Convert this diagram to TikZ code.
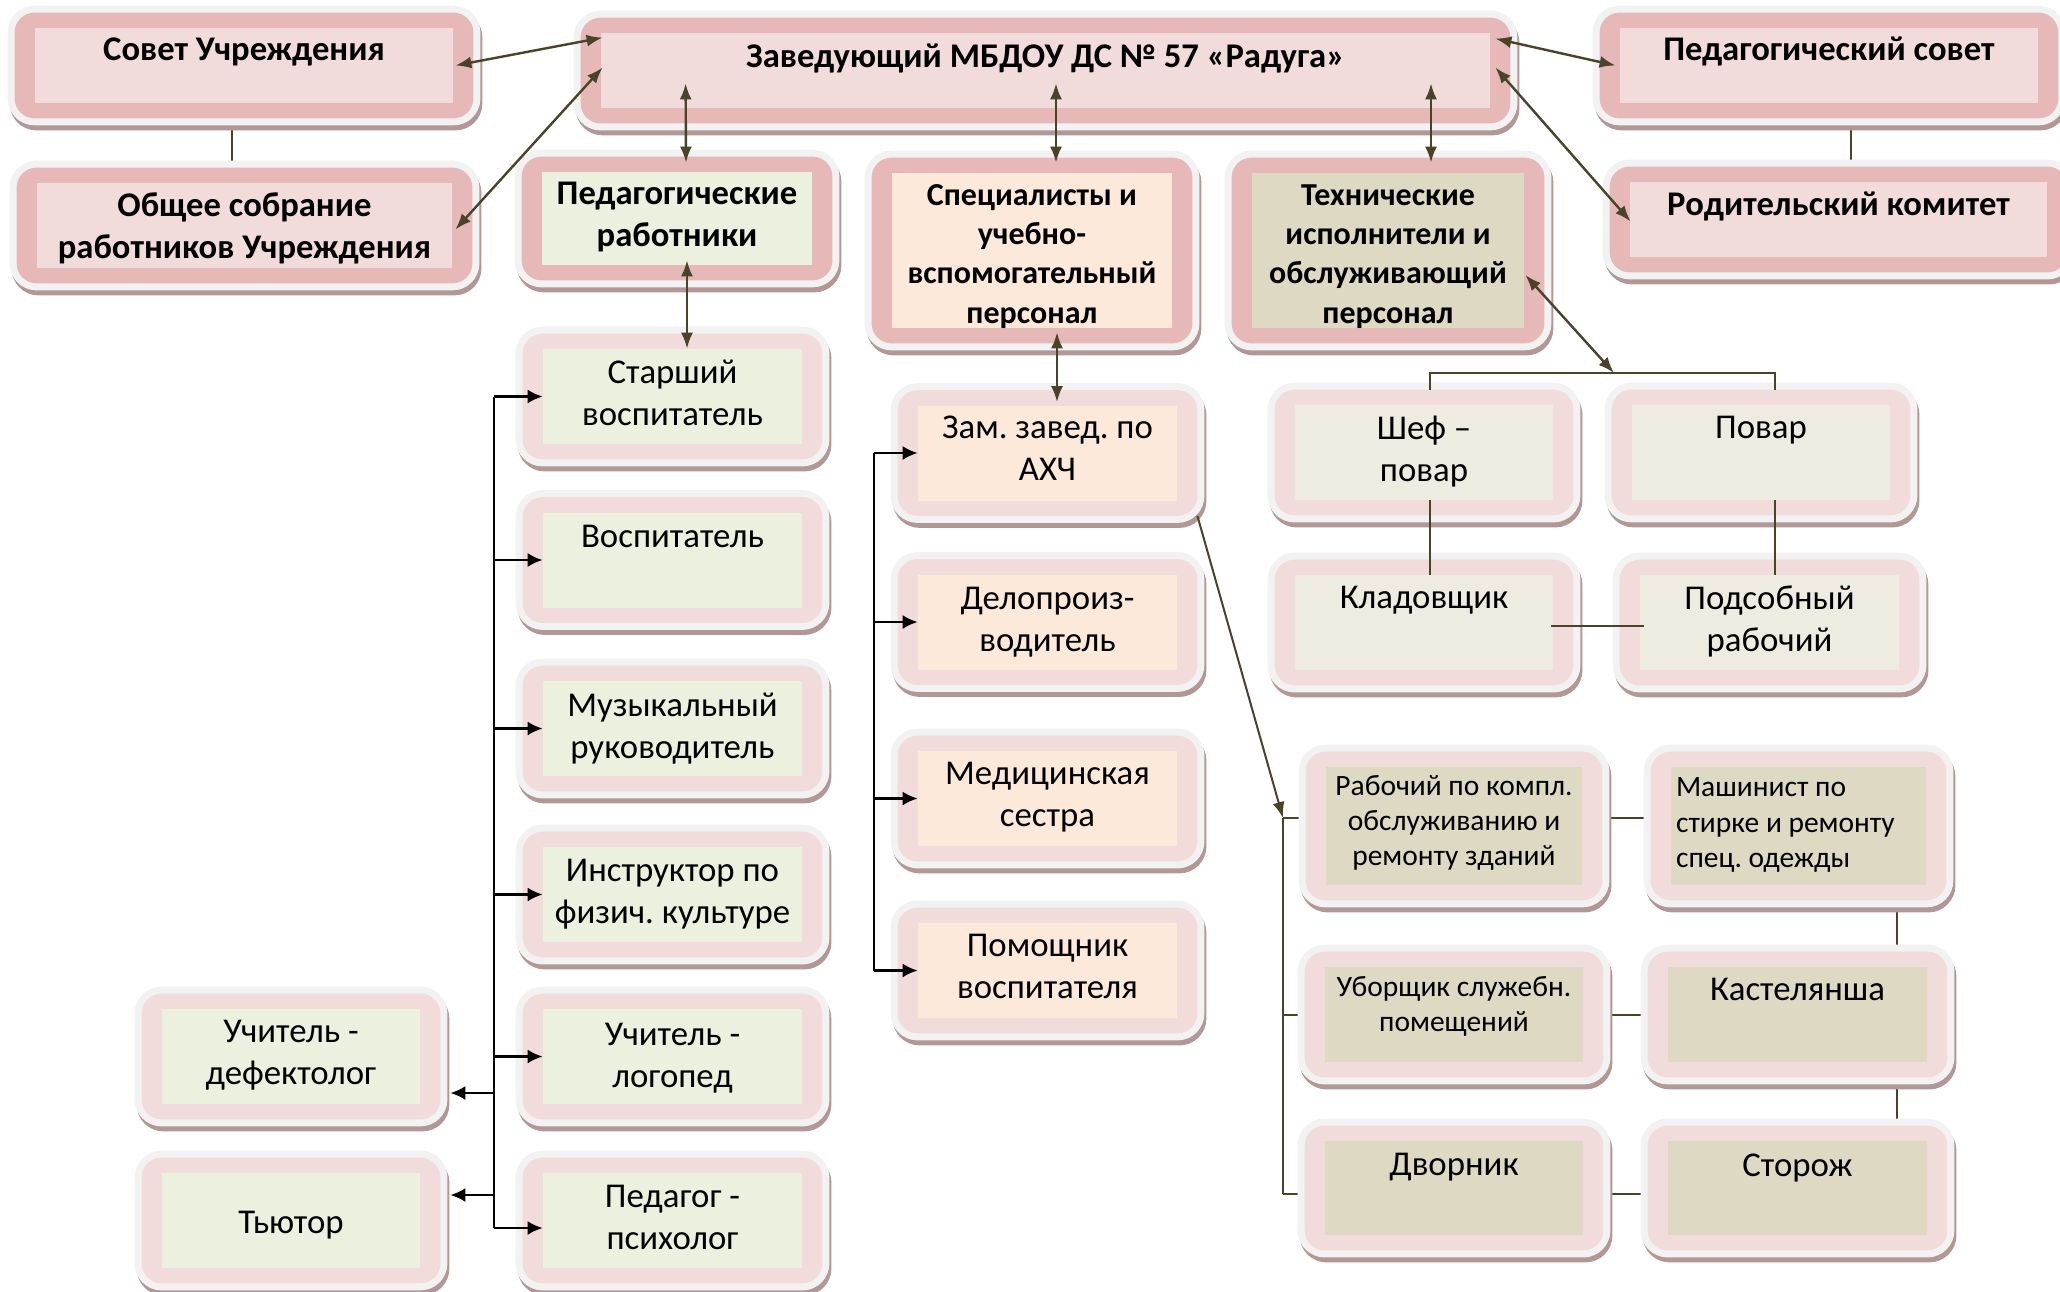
\documentclass[tikz,border=0pt]{standalone}
\usepackage{fontspec}
\setmainfont{Carlito}
\frenchspacing
\usetikzlibrary{calc,arrows.meta}
\pgfdeclarelayer{back}
\pgfdeclarelayer{deco}
\pgfsetlayers{back,deco,main}
\definecolor{pinkD}{HTML}{E6B9B8}
\definecolor{pinkL}{HTML}{F2DCDB}
\definecolor{haloC}{HTML}{F2F2F2}
\definecolor{shadC}{HTML}{B39797}
\definecolor{grnC}{HTML}{EBF1DE}
\definecolor{peachC}{HTML}{FDE9D9}
\definecolor{tanC}{HTML}{DDD9C3}
\definecolor{ltanC}{HTML}{EEECE1}
\definecolor{oliveC}{HTML}{494429}
\tikzset{
  bx/.style n args={3}{rectangle, inner sep=0pt, fill=#1, minimum width=#2*0.5pt, minimum height=#3*0.5pt, align=center, font=\fontsize{17.4}{21}\selectfont},
  hd/.style={font=\fontsize{17.3}{21}\selectfont\bfseries},
  hdc/.style={font=\fontsize{16}{19.7}\selectfont\bfseries},
  sm/.style={font=\fontsize{14.75}{17.6}\selectfont},
  oarr/.style={draw=oliveC, line width=1.2pt, {Latex[length=8pt,width=6pt]}-{Latex[length=8pt,width=6pt]}},
  oone/.style={draw=oliveC, line width=1pt, -{Latex[length=8pt,width=6pt]}},
  oline/.style={draw=oliveC, line width=1pt},
  bline/.style={draw=black, line width=1.1pt},
  barr/.style={draw=black, line width=1.1pt, -{Latex[length=7.5pt,width=7pt]}},
}
% trailing empty line used to place the text block vertically
\newcommand\trail[1]{\\[#1]\mbox{}}
\begin{document}
\begin{tikzpicture}[x=0.5pt,y=-0.5pt]
\useasboundingbox (0,0) rectangle (2060,1291);
\begin{pgfonlayer}{back}
\fill[white] (0,0) rectangle (2060,1291);
\end{pgfonlayer}

% top level
\node[bx={pinkL}{418}{75}, hd] (sovet) at (244,65.5) {Совет Учреждения\trail{-4.3pt}};
\node[bx={pinkL}{415}{85}, hd] (obshee) at (244.5,225.5) {Общее собрание\\работников Учреждения\trail{-21.3pt}};
\node[bx={pinkL}{889}{75}, hd] (zav) at (1045.5,70.5) {Заведующий МБДОУ ДС №~57 «Радуга»\trail{-6.6pt}};
\node[bx={pinkL}{418}{75}, hd] (pedsovet) at (1829,65.5) {Педагогический совет\trail{-4.3pt}};
\node[bx={pinkL}{417}{75}, hd] (rodkom) at (1838.5,219.5) {Родительский комитет\trail{-5.3pt}};
\node[bx={grnC}{270}{93}, hd] (pedrab) at (677,218.5) {Педагогические\\работники\trail{-17pt}};
\node[bx={peachC}{280}{155}, hdc] (spec) at (1032,250.5) {Специалисты и\\учебно-\\вспомогательный\\персонал\trail{-23pt}};
\node[bx={tanC}{272}{155}, hdc] (tech) at (1388,250.5) {Технические\\исполнители и\\обслуживающий\\персонал\trail{-23pt}};

% pedagogical staff
\node[bx={grnC}{259}{95}] (starsh) at (672.5,396.5) {Старший\\воспитатель\trail{-17pt}};
\node[bx={grnC}{259}{95}] (vosp) at (672.5,560) {Воспитатель\trail{2.6pt}};
\node[bx={grnC}{259}{95}] (muz) at (672.5,728.5) {Музыкальный\\руководитель\trail{-18.3pt}};
\node[bx={grnC}{259}{95}] (instr) at (672.5,894.5) {Инструктор по\\физич. культуре\trail{-18.3pt}};
\node[bx={grnC}{259}{95}] (logop) at (672.5,1056.5) {Учитель -\\логопед\trail{-19.7pt}};
\node[bx={grnC}{259}{95}] (psych) at (672.5,1220.5) {Педагог -\\психолог\trail{-18.3pt}};
\node[bx={grnC}{258}{95}] (defekt) at (291,1056.5) {Учитель -\\дефектолог\trail{-17pt}};
\node[bx={grnC}{258}{95}] (tutor) at (291,1220.5) {\rule{0pt}{17.2pt}Тьютор\trail{-17pt}};

% specialists
\node[bx={peachC}{259}{95}] (zam) at (1047.5,453) {Зам. завед. по\\АХЧ\trail{-16.4pt}};
\node[bx={peachC}{259}{95}] (delo) at (1047.5,622) {Делопроиз-\\водитель\trail{-18.4pt}};
\node[bx={peachC}{259}{95}] (med) at (1047.5,798.5) {Медицинская\\сестра\trail{-17pt}};
\node[bx={peachC}{259}{95}] (pom) at (1047.5,970.5) {Помощник\\воспитателя\trail{-17pt}};

% technical staff
\node[bx={ltanC}{258}{95}] (shef) at (1424,452.5) {Шеф –\\повар\trail{-17.1pt}};
\node[bx={ltanC}{258}{95}] (povar) at (1761,452.5) {Повар\trail{4pt}};
\node[bx={ltanC}{258}{95}] (klad) at (1424,622.5) {Кладовщик\trail{4pt}};
\node[bx={ltanC}{259}{95}] (podsob) at (1769.5,622.5) {Подсобный\\рабочий\trail{-17pt}};
\node[bx={tanC}{256}{118}, sm] (rab) at (1454,826) {Рабочий по компл.\\обслуживанию и\\ремонту зданий\trail{-12.3pt}};
\node[bx={tanC}{255}{118}, sm, align=left, text width=245*0.5pt] (mash) at (1798.5,826) {\spaceskip=0pt\xspaceskip=0pt\relax Машинист по\\стирке и ремонту\\спец. одежды\trail{-14.3pt}};
\node[bx={tanC}{258}{95}, sm] (ubor) at (1454,1014.5) {Уборщик служебн.\\помещений\trail{-7.3pt}};
\node[bx={tanC}{259}{95}] (kast) at (1797.5,1014.5) {Кастелянша\trail{4pt}};
\node[bx={tanC}{258}{94}] (dvor) at (1454,1188) {Дворник\trail{2.6pt}};
\node[bx={tanC}{259}{94}] (storozh) at (1797.5,1188) {Сторож\trail{1.4pt}};

% box decorations
\begin{pgfonlayer}{deco}
\foreach \n/\bc in {sovet/pinkD,obshee/pinkD,zav/pinkD,pedsovet/pinkD,rodkom/pinkD,pedrab/pinkD,spec/pinkD,tech/pinkD,
  starsh/pinkL,vosp/pinkL,muz/pinkL,instr/pinkL,logop/pinkL,psych/pinkL,defekt/pinkL,tutor/pinkL,
  zam/pinkL,delo/pinkL,med/pinkL,pom/pinkL,shef/pinkL,povar/pinkL,klad/pinkL,podsob/pinkL,
  rab/pinkL,mash/pinkL,ubor/pinkL,kast/pinkL,dvor/pinkL,storozh/pinkL}{
  \fill[shadC, rounded corners=13.5pt] ($(\n.south west)+(-25,27)$) rectangle ($(\n.north east)+(29,-17)$);
  \fill[haloC, rounded corners=13.5pt] ($(\n.south west)+(-27,22)$) rectangle ($(\n.north east)+(27,-22)$);
  \fill[fill=\bc, rounded corners=10pt] ($(\n.south west)+(-20,15)$) rectangle ($(\n.north east)+(20,-15)$);
}
\end{pgfonlayer}

% connectors behind boxes
\coordinate (t2) at (1283,818);
\begin{pgfonlayer}{back}
\draw[oline] ($(sovet.south)+(-12,0)$) -- ($(obshee.north)+(-12.5,0)$);
\draw[oline] ($(pedsovet.south)+(22,0)$) -- ($(rodkom.north)+(12.5,0)$);
\draw[oline] (t2) -- ($(mash.west)+(0,-8)$);
\draw[oline] (t2 |- ubor.west) -- (kast.west);
\draw[oline] ($(t2 |- dvor.west)+(0,6)$) -- ($(storozh.west)+(0,6)$);
\draw[oline] ($(mash.south east)+(-29,0)$) -- ($(kast.north east)+(-30,0)$);
\draw[oline] ($(kast.south east)+(-30,0)$) -- ($(storozh.north east)+(-30,0)$);
\end{pgfonlayer}

% olive double arrows
\draw[oarr] ($(sovet.east)+(2,0)$) -- ($(zav.north west)+(2,5)$);
\draw[oarr] ($(obshee.east)+(3,4)$) -- ($(zav.west)+(2,-3)$);
\draw[oarr] ($(zav.north east)+(5,6)$) -- ($(pedsovet.west)+(-4,0)$);
\draw[oarr] ($(zav.east)+(5,-3)$) -- ($(rodkom.west)+(1,2)$);
\draw[oarr] ($(zav.south west)+(85,-25)$) -- ($(pedrab.north)+(9,-9)$);
\draw[oarr] ($(zav.south)+(10.5,-25)$) -- ($(spec.north)+(24,-10)$);
\draw[oarr] ($(zav.south)+(385.5,-25)$) -- ($(tech.north)+(43,-10)$);
\draw[oarr] ($(pedrab.south)+(10,-5)$) -- ($(starsh.north)+(14.5,0)$);
\draw[oarr] ($(spec.south)+(25,4)$) -- ($(zam.north)+(9.5,-3)$);
\coordinate (ttop) at (1614,373);
\draw[oarr] ($(tech.east)+(1,24.5)$) -- (ttop);

% technical tree
\draw[oline] ($(shef.north)+(6,-15)$) |- ($(povar.north)+(14,-32)$) -- ($(povar.north)+(14,-15)$);
\draw[oline] ($(shef.south)+(6,0)$) -- ($(klad.north)+(6,0)$);
\draw[oline] ($(povar.south)+(14,0)$) -- ($(podsob.north)+(5.5,0)$);
\draw[oline] ($(klad.east)+(-2,3.5)$) -- ($(podsob.west)+(4,3.5)$);
\draw[oone] ($(zam.south east)+(20,15)$) -- (t2);
\draw[oline] (t2) -- ($(t2 |- dvor.west)+(0,6)$);

% pedagogical tree
\coordinate (pt) at (494,0);
\draw[bline] (pt |- starsh.west) -- ($(pt |- psych.west)+(0,7.5)$);
\foreach \n in {starsh,vosp,muz,instr,logop} \draw[barr] (pt |- \n.west) -- (\n.west);
\draw[barr] ($(pt |- psych.west)+(0,7.5)$) -- ($(psych.west)+(0,7.5)$);
\draw[barr] ($(pt |- defekt.east)+(0,36.5)$) -- ($(defekt.east)+(30,36.5)$);
\draw[barr] ($(pt |- tutor.east)+(0,-25.5)$) -- ($(tutor.east)+(30,-25.5)$);

% specialists tree
\coordinate (sp) at (874,0);
\draw[bline] (sp |- zam.west) -- (sp |- pom.west);
\foreach \n in {zam,delo,med,pom} \draw[barr] (sp |- \n.west) -- (\n.west);
\end{tikzpicture}
\end{document}
